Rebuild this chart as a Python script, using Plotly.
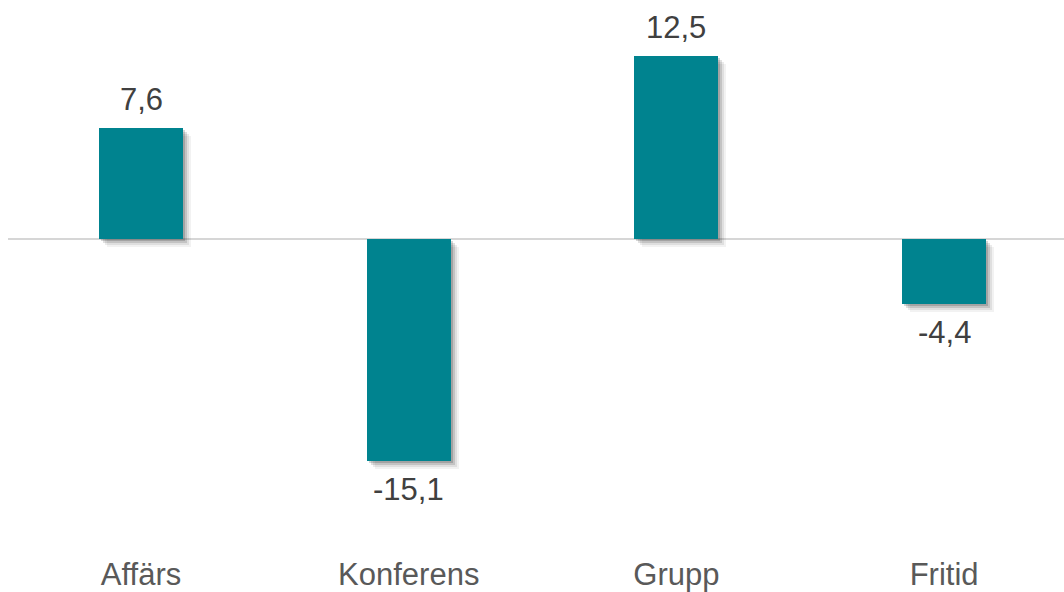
import plotly.graph_objects as go

categories = ["Affärs", "Konferens", "Grupp", "Fritid"]
values = [7.6, -15.1, 12.5, -4.4]
value_labels = ["7,6", "-15,1", "12,5", "-4,4"]

BAR_COLOR = "#00838F"
FONT = "Liberation Sans, Arial, sans-serif"

W, H = 1064, 592
ML, MR, MT, MB = 8, 0, 0, 50
x_range = [-0.497, 3.448]
y_range = [-20.3, 16.32]
px_per_x = (W - ML - MR) / (x_range[1] - x_range[0])
px_per_y = (H - MT - MB) / (y_range[1] - y_range[0])
bar_w = 84 / px_per_x

fig = go.Figure()

# soft drop shadow layers
for shift, alpha in [(8, 0.05), (6, 0.08), (4, 0.12), (2, 0.16)]:
    dx = shift / px_per_x
    dy = shift / px_per_y
    fig.add_trace(go.Bar(
        x=categories, y=values, base=[-dy] * len(values),
        width=bar_w, offset=-bar_w / 2 + dx,
        marker=dict(color=f"rgba(0,0,0,{alpha})", line=dict(width=0)),
        hoverinfo="skip", showlegend=False,
    ))

fig.add_trace(go.Bar(
    x=categories, y=values, width=bar_w, offset=-bar_w / 2,
    marker=dict(color=BAR_COLOR, line=dict(width=0)),
    showlegend=False,
))

for c, v, t in zip(categories, values, value_labels):
    fig.add_annotation(
        x=c, y=v, text=t, showarrow=False,
        yanchor="middle", yshift=28.5 if v >= 0 else -28.5,
        font=dict(family=FONT, size=31, color="#404040"),
    )

fig.update_layout(
    width=W, height=H,
    margin=dict(l=ML, r=MR, t=MT, b=MB, pad=0),
    paper_bgcolor="white", plot_bgcolor="white",
    barmode="overlay", bargap=0,
    font=dict(family=FONT, size=31, color="#595959"),
    xaxis=dict(
        range=x_range, showgrid=False, showline=False, zeroline=False,
        ticks="", tickfont=dict(family=FONT, size=31, color="#595959"),
        ticklabelstandoff=16, fixedrange=True,
    ),
    yaxis=dict(
        range=y_range, showgrid=False, showline=False, showticklabels=False,
        zeroline=True, zerolinecolor="#d6d6d6", zerolinewidth=2,
        ticks="", fixedrange=True,
    ),
)

fig.write_html("out.html")
